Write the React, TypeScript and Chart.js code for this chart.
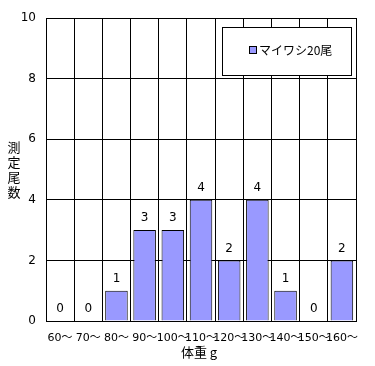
import React, { useEffect, useRef } from "react";
import { Chart, registerables } from "chart.js";

Chart.register(...registerables);

const categories = ["60〜", "70〜", "80〜", "90〜", "100〜", "110〜", "120〜", "130〜", "140〜", "150〜", "160〜"];
const counts = [0, 0, 1, 3, 3, 4, 2, 4, 1, 0, 2];
const seriesName = "マイワシ20尾";
const yTitle = ["測", "定", "尾", "数"];
const xTitle = "体重 g";

const FONT = "'DejaVu Sans', 'Noto Sans CJK JP', sans-serif";
const CJK = "'Noto Sans CJK JP', sans-serif";
const BAR_COLOR = "#9999FF";

const decorPlugin = {
  id: "decor",
  afterDatasetsDraw(chart: any) {
    const ctx = chart.ctx;
    const area = chart.chartArea;
    const meta = chart.getDatasetMeta(0);
    ctx.save();
    ctx.setTransform(1, 0, 0, 1, 0, 0);
    ctx.fillStyle = "#000";
    ctx.font = `12px ${FONT}`;
    ctx.textAlign = "center";
    ctx.textBaseline = "middle";
    meta.data.forEach((el: any, i: number) => {
      ctx.fillText(String(counts[i]), el.x, el.y - 12);
    });
    // legend box
    const lx = 222, ly = 27, lw = 129, lh = 48;
    ctx.fillStyle = "#fff";
    ctx.fillRect(lx, ly, lw, lh);
    ctx.strokeStyle = "#000";
    ctx.lineWidth = 1;
    ctx.strokeRect(lx + 0.5, ly + 0.5, lw, lh);
    ctx.fillStyle = BAR_COLOR;
    ctx.fillRect(249.5, 46.5, 7, 7);
    ctx.strokeRect(249.5, 46.5, 7, 7);
    ctx.fillStyle = "#000";
    ctx.textAlign = "left";
    ctx.font = `12px ${CJK}`;
    ctx.fillText(seriesName, 259, 50);
    // y title
    ctx.textAlign = "center";
    ctx.font = `13px ${CJK}`;
    const midY = (area.top + area.bottom) / 2;
    yTitle.forEach((ch, i) => {
      ctx.fillText(ch, 14, midY - 22 + i * 15);
    });
    // x title
    ctx.font = `13px ${CJK}`;
    ctx.fillText(xTitle, 199, 352);
    ctx.restore();
  },
};

export default function App() {
  const ref = useRef<HTMLCanvasElement | null>(null);
  useEffect(() => {
    if (!ref.current) return;
    const chart = new Chart(ref.current, {
      type: "bar",
      data: {
        labels: categories,
        datasets: [
          {
            label: seriesName,
            data: counts,
            backgroundColor: BAR_COLOR,
            borderColor: "#000",
            borderWidth: 1,
            barPercentage: 0.8,
            categoryPercentage: 1,
          },
        ],
      },
      options: {
        responsive: false,
        animation: false,
        events: [],
        layout: { padding: { left: 0, right: 19, top: 18, bottom: 0 } },
        plugins: { legend: { display: false }, tooltip: { enabled: false } },
        scales: {
          x: {
            grid: { color: "#000", lineWidth: 1, offset: true, drawTicks: false },
            border: { color: "#000", width: 1 },
            ticks: {
              color: "#000",
              font: { family: FONT, size: 11 },
              autoSkip: false,
              maxRotation: 0,
              minRotation: 0,
              padding: 11,
            },
            afterFit: (s: any) => {
              s.height = 45;
            },
          },
          y: {
            min: 0,
            max: 10,
            ticks: { stepSize: 2, color: "#000", font: { family: FONT, size: 12 }, padding: 10 },
            grid: { color: "#000", lineWidth: 1, drawTicks: false },
            border: { color: "#000", width: 1 },
            afterFit: (s: any) => {
              s.width = 46;
            },
          },
        },
      },
      plugins: [decorPlugin],
    });
    return () => chart.destroy();
  }, []);
  return (
    <div style={{ position: "fixed", left: 0, top: 0, width: 375, height: 366, background: "#fff" }}>
      <canvas ref={ref} width={375} height={366} style={{ width: 375, height: 366 }} />
    </div>
  );
}
